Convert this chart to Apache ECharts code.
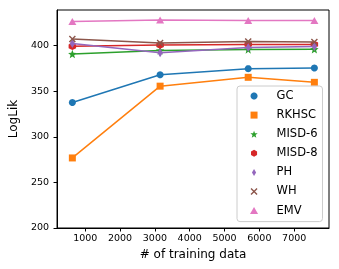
<!DOCTYPE html>
<html>
<head>
<meta charset="utf-8">
<script src="https://cdn.jsdelivr.net/npm/echarts@6/dist/echarts.min.js"></script>
<style>html,body{margin:0;padding:0;background:#fff}#c{width:339px;height:269px}</style>
</head>
<body>
<div id="c"></div>
<script>
// ---- data ----
const trainSizes = [630, 3150, 5680, 7580];
const seriesNames = ['GC', 'RKHSC', 'MISD-6', 'MISD-8', 'PH', 'WH', 'EMV'];
const GC = [337.5, 368.0, 374.7, 375.4];
const RKHSC = [276.8, 355.5, 365.2, 359.7];
const MISD6 = [390.8, 394.7, 395.8, 396.0];
const MISD8 = [399.2, 400.6, 401.3, 401.2];
const PH = [402.4, 392.2, 398.0, 399.0];
const WH = [407.2, 402.9, 404.4, 404.0];
const EMV = [426.5, 428.0, 427.5, 427.5];
const xTicks = [1000, 2000, 3000, 4000, 5000, 6000, 7000];
const yTicks = [200, 250, 300, 350, 400];

// ---- marker shapes ----
function poly(n, r0, rot, inner) {
  const pts = [];
  const m = inner ? n * 2 : n;
  for (let i = 0; i < m; i++) {
    const a = rot + i * Math.PI * 2 / m;
    const r = inner && i % 2 === 1 ? inner : r0;
    pts.push((r * Math.sin(a)).toFixed(4) + ',' + (-r * Math.cos(a)).toFixed(4));
  }
  return 'path://M' + pts.join('L') + 'Z';
}
const circlePath = poly(24, 1, 0);
const squarePath = 'path://M0,0L1,0L1,1L0,1Z';
const starPath = poly(5, 1, 0, 0.42);
const hexPath = poly(6, 1, 0);
const diamondPath = 'path://M0,-1L0.6,0L0,1L-0.6,0Z';
const t = 0.28;
const xPath = 'path://M' + [[-1,-1+t],[-t,0],[-1,1-t],[-1+t,1],[0,t],[1-t,1],[1,1-t],[t,0],[1,-1+t],[1-t,-1],[0,-t],[-1+t,-1]].map(p => p.join(',')).join('L') + 'Z';
const triPath = 'path://M0,-1L0.866,0.5L-0.866,0.5Z';

const colors = ['#1f77b4', '#ff7f0e', '#2ca02c', '#d62728', '#9467bd', '#8c564b', '#e377c2'];
const symbols = [circlePath, squarePath, starPath, hexPath, diamondPath, xPath, triPath];
const sizes = [[7, 7], [7, 7], [8.5, 8.5], [7.5, 7.5], [5.5, 9], [7, 7], [8, 7]];
const values = [GC, RKHSC, MISD6, MISD8, PH, WH, EMV];

const series = seriesNames.map((name, i) => ({
  name: name,
  type: 'line',
  data: trainSizes.map((x, j) => [x, values[i][j]]),
  symbol: symbols[i],
  symbolSize: sizes[i],
  showAllSymbol: true,
  lineStyle: { color: colors[i], width: 1.5 },
  itemStyle: { color: colors[i] },
  color: colors[i],
  z: 2 + i * 0.01
}));

const font = 'DejaVu Sans';
const chart = echarts.init(document.getElementById('c'), null, { renderer: 'canvas' });
chart.setOption({
  animation: false,
  backgroundColor: '#fff',
  textStyle: { fontFamily: font },
  grid: { left: 50, right: 10, top: 10, bottom: 41, show: true, borderColor: '#000', borderWidth: 1, backgroundColor: 'transparent' },
  xAxis: {
    type: 'value', min: 190, max: 8000,
    name: '# of training data', nameLocation: 'middle', nameGap: 21,
    nameTextStyle: { fontSize: 12, color: '#000', fontFamily: font },
    axisLine: { show: true, lineStyle: { color: '#000', width: 1 } },
    axisTick: { show: true, inside: false, length: 3.5, customValues: xTicks, lineStyle: { color: '#000' } },
    axisLabel: { customValues: xTicks, formatter: v => String(v), fontSize: 9.5, color: '#000', margin: 6, fontFamily: font },
    splitLine: { show: false }
  },
  yAxis: {
    type: 'value', min: 200, max: 439,
    name: 'LogLik', nameLocation: 'middle', nameGap: 30, nameRotate: 90,
    nameTextStyle: { fontSize: 12, color: '#000', fontFamily: font },
    axisLine: { show: true, lineStyle: { color: '#000', width: 1 } },
    axisTick: { show: true, inside: false, length: 3.5, customValues: yTicks, lineStyle: { color: '#000' } },
    axisLabel: { customValues: yTicks, formatter: v => String(v), fontSize: 9.5, color: '#000', margin: 8, fontFamily: font },
    splitLine: { show: false }
  },
  legend: {
    left: 237, top: 86,
    orient: 'vertical',
    padding: [4, 5, 5, 13],
    itemGap: 7.1,
    itemWidth: 35, itemHeight: 7,
    symbolKeepAspect: true,
    backgroundColor: 'rgba(255,255,255,0.8)',
    borderColor: '#cccccc', borderWidth: 1, borderRadius: 3,
    textStyle: { fontSize: 11.5, color: '#000', fontFamily: font },
    data: seriesNames.map((n, i) => ({ name: n, icon: symbols[i], itemStyle: { color: colors[i] } }))
  },
  series: series
});
</script>
</body>
</html>
